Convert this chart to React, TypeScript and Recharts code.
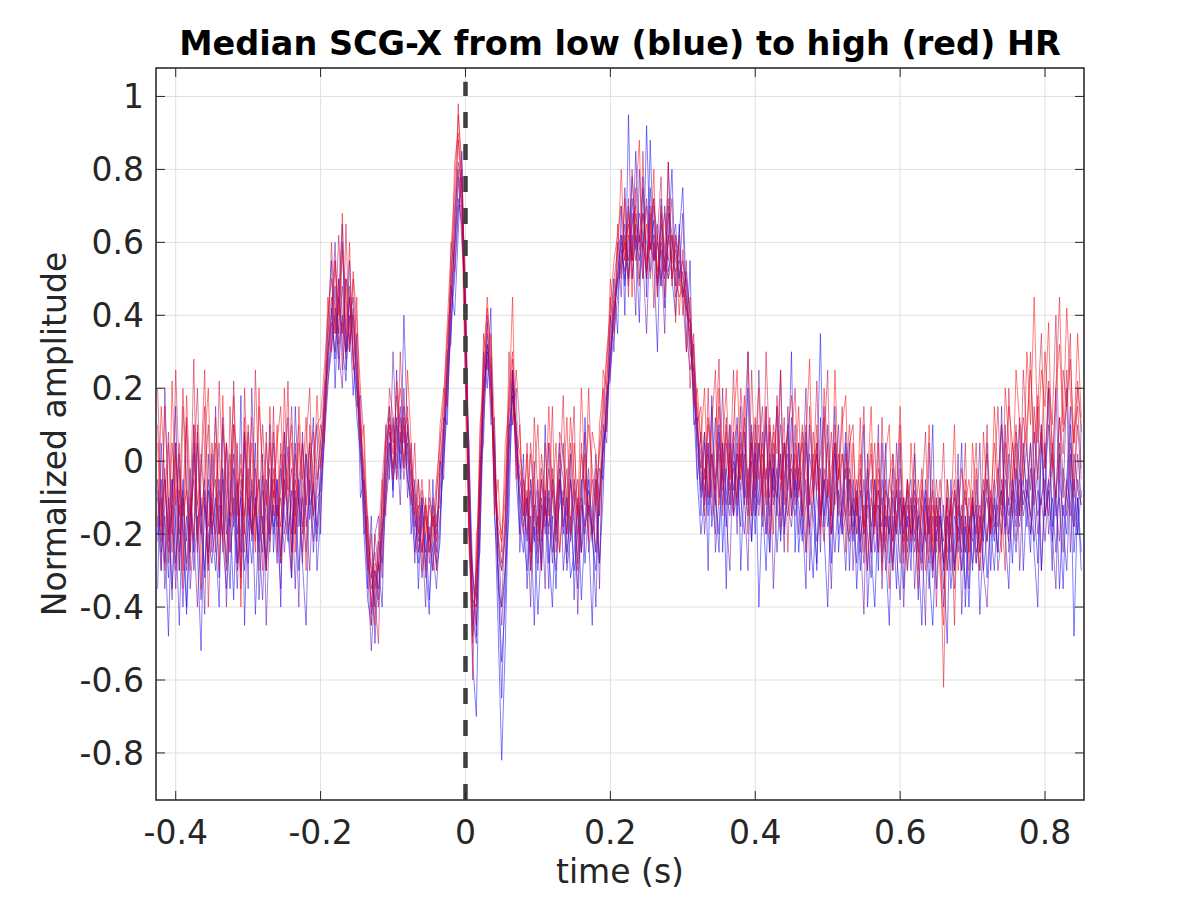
import {
  LineChart,
  Line,
  XAxis,
  YAxis,
  CartesianGrid,
  ReferenceLine,
  ReferenceArea,
} from "recharts";

// sample times: regular grid starting at TIME_START
const TIME_START = -0.425;
const TIME_STEP = 0.005;

const X_TICKS = [-0.4, -0.2, 0, 0.2, 0.4, 0.6, 0.8];
const Y_TICKS = [-0.8, -0.6, -0.4, -0.2, 0, 0.2, 0.4, 0.6, 0.8, 1];

// median SCG-X per HR bin, low HR (blue) -> high HR (red)
const hrBin1 = [
  -.2, -.05, -.28, -.1, -.35, -.15, .02, -.22, -.4, -.12, -.25, .05, -.18, -.3, -.08, -.2,
  -.1, -.32, -.02, -.2, -.14, -.38, -.06, -.25, .08, -.16, -.28, -.1, -.22, -.04, -.3, -.12,
  -.18, -.05, -.26, -.12, .04, -.2, -.08, -.3, -.1, .02, -.16, -.06, -.2, -.02, .14, .3,
  .42, .28, .5, .32, .22, .45, .3, .12, .02, -.2, -.38, -.45, -.3, -.35, -.2, -.1,
  .05, -.08, .12, -.02, .08, -.05, -.12, -.25, -.15, -.32, -.2, -.38, -.22, -.28, -.15, 0,
  .15, .38, .5, .68, .78, .3, -.2, -.55, -.7, -.15, .18, .32, .22, -.1, -.45, -.82,
  -.5, -.05, .18, .1, -.18, -.25, -.1, -.3, -.18, -.42, -.22, -.08, -.28, -.15, -.35, -.05,
  -.2, -.1, -.32, -.25, -.12, -.38, -.18, -.05, -.22, -.3, -.1, .05, .1, .28, .42, .5,
  .62, .48, .7, .55, .85, .6, .5, .92, .58, .66, .45, .72, .52, .6, .8, .48,
  .62, .75, .42, .38, .15, -.05, -.2, -.1, .05, -.18, -.08, .1, -.25, -.02, -.12, .08,
  -.15, .02, -.1, .3, -.05, -.2, .05, -.12, -.3, 0, -.08, .15, -.22, -.05, .1, -.15,
  -.02, -.25, -.1, .08, -.18, -.32, -.05, .35, -.15, -.08, -.28, .02, -.12, -.2, .05, -.1,
  -.22, -.08, -.3, -.15, -.02, -.25, -.4, -.12, -.18, .05, -.28, -.15, -.35, -.1, -.2, -.05,
  -.25, -.12, -.38, -.18, -.08, -.3, -.45, -.2, -.1, -.28, -.15, -.35, -.22, -.05, -.3, -.18,
  -.4, -.12, -.25, -.2, -.08, -.32, -.15, -.22, -.05, .1, -.18, -.1, -.28, -.02, -.15, .05,
  -.12, -.25, .08, -.05, -.3, -.1, .2, -.18, -.08, -.35, -.12, -.2, .02, -.48, -.1, -.25,
];
const hrBin2 = [
  -.35, .05, -.2, -.48, -.1, .15, -.3, -.05, -.42, -.18, .1, -.25, -.52, -.08, -.3, .02,
  -.22, -.4, .12, -.15, -.35, -.02, -.28, .18, -.45, -.1, -.2, .05, -.38, -.15, -.3, .1,
  -.25, -.05, -.4, .08, -.2, -.32, .15, -.1, -.28, -.45, -.05, .12, -.3, -.15, .05, .38,
  .55, .2, .45, .65, .25, .4, .18, .35, -.1, -.05, -.35, -.15, -.5, -.28, -.4, -.02,
  .15, -.1, .25, -.05, .4, .08, -.2, -.05, -.35, -.1, -.28, -.42, -.05, -.3, -.22, .12,
  .1, .48, .4, .62, .85, .2, .05, -.48, -.3, -.25, .3, .2, .42, -.15, -.3, -.65,
  -.3, -.15, .25, -.05, -.2, .02, -.35, -.15, -.45, -.08, -.3, .1, -.25, -.4, -.12, .05,
  -.3, -.18, .02, -.38, -.1, -.25, .12, -.2, -.45, -.05, -.28, -.1, .2, .22, .5, .35,
  .7, .4, .95, .5, .62, .38, .78, .45, .88, .55, .3, .68, .42, .82, .5, .4,
  .65, .45, .3, .55, .1, .12, -.15, .08, -.3, .18, -.1, -.25, .05, -.35, .1, -.15,
  .12, -.3, -.05, .2, -.22, .05, -.4, -.1, .15, -.25, .02, -.15, .25, -.2, -.05, .3,
  -.25, .05, -.15, -.35, .1, -.05, -.3, .12, -.2, -.4, -.08, .15, -.25, -.1, .08, -.3,
  -.05, -.35, -.15, .1, -.4, -.2, -.05, -.3, .05, -.25, -.45, -.1, -.2, .05, -.35, -.15,
  -.3, .02, -.25, -.45, -.1, -.2, .1, -.35, -.15, -.28, -.5, -.05, -.3, -.18, .05, -.4,
  -.15, -.3, -.05, -.42, -.2, .05, -.3, -.1, -.25, .15, -.2, -.35, -.05, -.15, .1, -.3,
  -.1, .05, -.25, -.4, .1, -.15, -.05, -.3, .2, -.12, -.35, -.05, .15, -.25, -.1, -.3,
];
const hrBin3 = [
  -.08, -.25, -.15, -.32, -.05, -.18, -.45, -.1, -.22, -.02, -.3, -.15, -.38, -.12, -.2, -.28,
  -.15, -.05, -.22, -.35, -.12, .02, -.2, -.1, -.3, -.18, -.08, -.42, -.15, -.25, -.05, -.2,
  -.12, -.28, -.02, -.15, -.22, -.08, -.35, -.05, -.18, -.12, .05, -.25, -.1, -.08, .05, .2,
  .35, .48, .25, .4, .3, .55, .28, .2, .08, -.05, -.22, -.3, -.4, -.22, -.28, -.12,
  -.02, .1, -.05, .05, .15, 0, -.08, -.2, -.28, -.12, -.25, -.18, -.3, -.15, -.12, .02,
  .22, .35, .58, .72, .65, .4, -.05, -.42, -.5, -.05, .2, .3, .15, .05, -.3, -.55,
  -.38, .02, .25, .02, -.12, -.2, -.3, -.08, -.22, -.15, -.28, -.1, -.35, -.05, -.18, -.12,
  -.08, -.25, -.15, -.3, -.2, -.05, -.28, -.12, -.18, -.4, -.02, -.05, .18, .25, .35, .45,
  .55, .65, .5, .72, .58, .68, .62, .5, .75, .55, .6, .48, .7, .52, .58, .65,
  .5, .55, .48, .3, .25, .1, -.1, -.02, -.15, .02, -.1, -.2, .05, -.08, -.15, 0,
  -.05, -.18, .08, -.1, -.22, .02, -.12, -.05, .1, -.15, -.02, -.25, -.08, .05, -.12, -.18,
  -.05, -.12, -.22, .05, -.1, -.15, -.28, -.02, -.18, .1, -.12, -.25, -.08, -.15, -.3, -.05,
  -.18, -.1, -.25, -.05, -.2, -.32, -.12, -.08, -.28, -.15, -.2, -.02, -.25, -.38, -.12, -.18,
  -.1, -.22, -.15, -.28, -.05, -.2, -.32, -.15, -.25, -.12, -.3, -.18, -.08, -.25, -.15, -.35,
  -.2, -.1, -.28, -.15, -.22, -.05, -.18, -.3, -.12, -.08, -.2, .02, -.15, -.25, -.1, -.05,
  -.18, -.02, -.12, -.28, .05, -.15, -.08, -.22, -.1, .02, -.18, -.3, -.05, -.12, -.2, -.08,
];
const hrBin4 = [
  -.22, -.1, -.35, -.18, -.05, -.28, -.12, -.4, -.15, -.25, .02, -.2, -.1, -.32, -.05, -.18,
  -.3, -.12, -.2, .05, -.25, -.15, -.35, -.08, -.18, -.28, -.05, -.15, -.22, -.38, -.1, -.02,
  -.2, -.12, -.28, -.05, -.15, -.32, .05, -.18, -.1, -.25, -.05, -.15, -.22, -.1, .08, .22,
  .3, .42, .35, .6, .3, .38, .45, .25, .1, -.15, -.3, -.52, -.35, -.28, -.18, -.05,
  .08, -.05, .02, .15, -.02, .1, -.02, -.15, -.22, -.1, -.3, -.2, -.25, -.35, -.18, .08,
  .25, .45, .6, .75, .8, .42, 0, -.3, -.45, -.2, .1, .3, .28, .02, -.2, -.4,
  -.3, .08, .22, .05, -.05, -.12, -.22, -.05, -.18, -.3, -.1, -.2, -.08, -.25, -.15, -.02,
  -.15, -.28, -.05, -.18, -.35, -.12, -.2, -.08, -.15, -.25, -.1, .02, .15, .3, .38, .52,
  .6, .5, .58, .78, .62, .55, .68, .6, .52, .7, .62, .5, .55, .68, .5, .6,
  .58, .45, .52, .4, .22, .02, -.08, .05, -.12, -.05, .12, -.1, -.02, -.18, .05, -.08,
  .02, -.1, -.2, -.05, .05, -.15, -.08, .08, -.12, -.25, -.02, -.1, .02, -.18, -.08, .12,
  -.1, -.02, -.2, -.12, .02, -.08, -.22, -.15, -.05, -.18, -.1, .05, -.2, -.12, -.02, -.15,
  -.12, -.28, -.08, -.2, -.15, -.05, -.25, -.18, -.1, -.3, -.15, -.22, -.08, -.2, -.12, -.3,
  -.18, -.08, -.25, -.12, -.2, -.35, -.15, -.22, -.1, -.3, -.2, -.12, -.28, -.18, -.25, -.1,
  -.15, -.28, -.18, -.12, -.3, -.2, -.1, -.15, -.25, -.05, -.12, -.2, -.08, -.18, -.02, -.12,
  -.05, -.15, -.22, -.08, -.12, .05, -.2, -.1, -.25, -.05, -.15, -.08, .1, -.18, -.05, -.12,
];
const hrBin5 = [
  -.05, -.3, .2, -.15, -.38, .05, -.25, -.1, .12, -.35, -.2, .08, -.15, -.42, .02, -.25,
  .15, -.2, -.05, -.4, -.12, .1, -.3, -.18, .05, -.35, .2, -.1, -.25, .02, -.45, -.15,
  .05, -.2, -.35, -.02, .12, -.25, -.1, -.4, .08, -.15, -.3, -.05, .1, -.2, .2, .25,
  .4, .6, .3, .2, .5, .45, .28, .15, .18, -.2, -.15, -.42, -.2, -.15, -.32, .1,
  -.05, .3, .05, -.12, .2, -.1, .05, -.28, -.05, -.2, -.4, -.1, -.15, -.25, 0, -.05,
  .3, .32, .68, .8, .6, .45, -.2, -.3, -.48, 0, .05, .4, .1, .12, -.35, -.4,
  -.15, .1, .1, .2, -.25, -.05, -.15, -.4, 0, -.28, -.12, -.35, .05, -.2, -.3, -.08,
  .05, -.3, -.2, -.05, -.42, -.1, .08, -.25, -.15, .02, -.35, .1, .05, .4, .3, .6,
  .45, .75, .5, .62, .4, .8, .55, .35, .65, .72, .48, .58, .35, .7, .62, .45,
  .5, .68, .35, .25, .32, -.05, .08, -.2, -.05, .15, -.25, -.1, .2, -.15, -.3, .05,
  -.2, .15, -.1, -.3, .1, -.15, .25, -.05, -.2, .08, -.35, -.1, .02, -.25, .15, -.1,
  .1, -.2, -.05, .2, -.3, -.12, .05, -.25, .15, -.1, -.35, -.05, .1, -.2, -.15, .05,
  -.3, -.1, -.2, -.42, .02, -.25, -.15, .1, -.35, -.05, -.2, -.3, .05, -.15, -.4, -.1,
  -.05, -.35, -.15, -.2, -.45, .05, -.3, -.1, -.25, -.4, -.05, -.2, -.3, .02, -.42, -.15,
  -.35, -.1, -.2, .05, -.3, -.4, -.15, -.05, -.3, -.2, .1, -.25, -.15, .05, -.3, -.05,
  .05, -.2, -.1, .15, -.3, -.05, .1, -.2, -.35, .05, -.1, .2, -.25, -.05, -.2, .1,
];
const hrBin6 = [
  -.15, -.3, -.05, -.2, -.12, -.35, -.08, -.18, -.28, -.1, -.2, -.4, -.15, -.05, -.25, -.12,
  -.2, -.08, -.15, -.28, -.05, -.18, -.1, -.32, -.15, -.02, -.22, -.12, -.05, -.18, -.28, -.1,
  -.05, -.18, -.1, -.25, -.12, -.02, -.2, -.1, -.28, .02, -.12, -.08, -.18, -.05, .12, .28,
  .38, .3, .45, .35, .5, .32, .4, .22, .05, -.1, -.25, -.35, -.3, -.4, -.2, -.08,
  .02, .12, -.02, .08, -.05, .05, -.05, -.18, -.12, -.25, -.15, -.22, -.12, -.2, -.08, .05,
  .2, .42, .52, .7, .7, .38, -.08, -.38, -.4, -.08, .18, .28, .2, .02, -.28, -.45,
  -.28, .02, .2, .08, -.1, -.15, -.08, -.25, -.12, -.2, -.05, -.18, -.1, -.28, -.12, -.05,
  -.18, -.1, -.22, -.12, -.05, -.25, -.15, -.02, -.2, -.12, -.28, .02, .12, .32, .4, .5,
  .52, .62, .55, .65, .7, .5, .6, .72, .58, .62, .48, .6, .55, .5, .62, .55,
  .52, .48, .4, .38, .18, .08, -.05, -.12, .02, -.08, -.2, .08, -.05, -.12, .02, -.15,
  -.08, .05, -.12, -.02, -.15, .1, -.05, -.18, -.02, -.1, .05, -.12, -.2, -.05, .02, -.1,
  -.15, -.05, -.12, -.25, -.08, .02, -.1, -.18, -.05, -.12, -.2, -.08, .02, -.1, -.15, -.22,
  -.1, -.2, -.15, -.28, -.08, -.18, -.12, -.25, -.05, -.18, -.1, -.28, -.15, -.08, -.22, -.12,
  -.2, -.15, -.1, -.25, -.18, -.12, -.28, -.2, -.15, -.22, -.1, -.3, -.15, -.2, -.12, -.25,
  -.18, -.22, -.12, -.25, -.15, -.1, -.2, -.12, -.18, -.08, -.15, -.22, -.05, -.12, -.18, -.08,
  -.12, -.2, -.05, -.15, -.1, -.22, -.08, -.02, -.15, -.1, -.25, -.05, -.12, -.18, .02, -.1,
];
const hrBin7 = [
  -.1, -.18, -.02, -.25, -.12, .05, -.2, -.08, -.3, -.15, -.05, -.22, .02, -.12, -.28, -.1,
  -.05, -.2, -.12, .05, -.18, -.1, -.28, -.05, -.15, .08, -.2, -.12, -.3, -.08, -.15, -.22,
  -.08, -.15, .02, -.2, -.1, -.25, -.05, -.12, .05, -.18, -.1, -.22, -.05, 0, .1, .25,
  .32, .4, .28, .48, .35, .3, .42, .18, .02, -.12, -.28, -.32, -.25, -.38, -.15, -.02,
  .05, -.02, .1, .02, .12, -.05, -.1, -.15, -.25, -.18, -.12, -.28, -.15, -.22, -.05, .08,
  .25, .45, .6, .78, .7, .32, -.12, -.32, -.38, -.12, .15, .32, .25, -.02, -.22, -.3,
  -.2, .08, .18, 0, -.08, -.18, -.1, -.28, -.15, -.05, -.22, -.12, -.2, -.02, -.15, -.25,
  -.1, -.2, -.05, -.15, -.28, -.1, -.18, -.12, -.22, -.05, -.15, .05, .18, .28, .42, .48,
  .58, .52, .62, .55, .68, .6, .75, .52, .6, .55, .65, .58, .5, .62, .55, .52,
  .55, .5, .45, .32, .2, .05, -.02, -.1, .05, -.15, -.05, .02, -.12, .05, -.08, -.02,
  -.12, .08, -.05, -.15, 0, -.1, .05, -.08, -.2, .02, -.12, -.05, .1, -.08, -.15, -.02,
  -.08, .05, -.15, -.05, -.2, -.1, .02, -.12, -.22, -.05, -.15, .05, -.1, -.18, -.08, -.02,
  -.15, -.05, -.22, -.12, -.3, -.1, -.18, -.05, -.25, -.12, -.2, -.08, -.15, -.28, -.1, -.22,
  -.12, -.25, -.18, -.08, -.22, -.15, -.3, -.12, -.2, -.35, -.15, -.25, -.1, -.2, -.3, -.15,
  -.25, -.12, -.2, -.3, -.15, -.22, -.08, -.18, -.12, -.2, -.05, -.15, -.1, -.22, -.05, -.15,
  -.08, -.15, -.02, -.2, -.1, -.05, -.15, .05, -.12, -.22, -.02, -.1, -.15, .02, -.08, -.12,
];
const hrBin8 = [
  -.05, -.22, -.12, .08, -.18, -.3, -.02, -.15, -.08, -.25, .05, -.12, -.2, -.05, .1, -.18,
  -.12, .05, -.25, -.1, .02, -.15, -.05, -.3, .08, -.12, -.2, -.02, -.15, .1, -.1, -.25,
  -.02, -.15, -.08, .08, -.2, -.12, .02, -.1, -.25, -.05, .05, -.15, -.08, .05, .15, .3,
  .4, .55, .32, .38, .28, .45, .35, .22, .05, -.08, -.25, -.4, -.2, -.3, -.12, .02,
  .1, -.02, .05, .12, 0, .08, -.02, -.12, -.2, -.08, -.15, -.25, -.1, -.18, -.02, .1,
  .28, .5, .65, .82, .75, .38, -.15, -.4, -.35, -.05, .22, .35, .2, -.05, -.2, -.28,
  -.15, .12, .25, .02, -.05, -.1, -.2, -.05, -.15, -.22, -.02, -.12, -.18, -.08, -.2, -.05,
  -.12, -.02, -.2, -.08, -.15, -.25, -.05, -.12, -.2, -.02, -.1, .08, .22, .35, .45, .5,
  .55, .6, .48, .68, .55, .62, .58, .7, .5, .6, .52, .65, .58, .5, .55, .62,
  .48, .52, .42, .35, .25, .08, .02, -.08, .1, -.02, -.12, .05, -.05, .12, -.08, -.15,
  .05, -.08, .02, -.12, .08, -.05, -.15, .02, -.05, .12, -.1, -.02, -.15, .05, -.08, .02,
  -.12, -.02, .05, -.1, -.18, -.05, .02, -.15, -.08, .05, -.2, -.1, -.02, -.15, .02, -.08,
  -.2, -.1, -.02, -.18, -.12, -.25, -.05, -.15, -.22, -.08, -.12, -.3, -.05, -.18, -.1, -.25,
  -.15, -.05, -.22, -.3, -.12, -.2, -.08, -.25, -.15, -.28, -.1, -.2, -.35, -.12, -.18, -.25,
  -.1, -.2, -.28, -.15, -.05, -.22, -.12, -.2, -.08, -.15, -.02, -.12, .05, -.08, -.15, .02,
  -.1, .05, -.12, -.02, .08, -.15, -.05, .02, -.1, .12, -.05, -.15, .05, -.08, .1, -.05,
];
const hrBin9 = [
  .1, -.15, -.05, -.22, .05, -.12, -.3, .15, -.08, -.2, -.02, .2, -.15, -.1, -.28, .05,
  -.08, -.2, .1, -.05, -.15, .22, -.1, -.02, -.25, -.08, .12, -.15, -.05, -.2, .05, -.12,
  .08, -.1, -.18, .02, -.08, .15, -.15, -.05, .05, -.12, -.02, .08, -.05, .05, .2, .35,
  .45, .35, .62, .4, .3, .48, .38, .28, .1, -.05, -.2, -.3, -.45, -.25, -.1, .05,
  .12, .02, .18, .05, .1, .02, -.05, -.1, -.18, -.25, -.12, -.2, -.3, -.08, 0, .12,
  .32, .52, .7, .88, .78, .35, -.18, -.45, -.3, 0, .25, .38, .25, -.08, -.18, -.22,
  -.1, .15, .28, .05, -.02, -.08, -.15, .02, -.12, -.25, -.05, -.15, -.02, -.1, -.22, .02,
  -.05, -.15, .05, -.1, -.2, -.08, .02, -.15, -.05, -.12, .02, .12, .28, .38, .5, .58,
  .62, .55, .72, .5, .65, .58, .6, .52, .68, .55, .62, .48, .6, .72, .5, .58,
  .5, .45, .5, .4, .28, .12, -.02, .08, -.1, .02, -.05, .15, -.08, -.02, .1, -.12,
  .02, -.05, .12, -.1, .05, -.08, .02, .15, -.12, -.02, .08, -.05, -.18, .05, -.02, -.1,
  .02, -.08, -.02, .1, -.12, -.05, .05, -.15, -.02, -.1, .08, -.12, -.05, .02, -.15, -.05,
  -.08, -.15, -.05, -.2, -.1, .02, -.18, -.08, -.15, -.25, -.05, -.12, -.2, -.02, -.15, -.08,
  -.22, -.1, -.15, -.02, -.2, -.28, -.12, -.18, -.05, -.15, -.25, -.12, -.05, -.22, -.15, -.08,
  -.2, -.08, -.15, -.25, -.12, -.05, -.18, -.1, -.02, -.12, .05, -.05, -.15, .08, -.02, .12,
  .02, -.08, .15, -.05, .1, -.02, .2, .05, -.1, .12, .02, .25, -.05, .08, .15, -.02,
];
const hrBin10 = [
  .2, -.1, -.3, .05, -.2, .25, -.05, -.35, .1, -.15, .28, -.25, -.05, .15, -.4, -.1,
  -.25, .22, -.05, -.3, .15, -.15, .05, -.35, .2, -.08, -.2, .25, -.1, -.3, .08, -.2,
  .15, -.25, .05, -.1, .22, -.3, -.05, .1, -.2, .05, .2, -.15, .02, .1, .05, .3,
  .6, .35, .5, .25, .65, .3, .52, .38, .2, .05, -.3, -.2, -.38, -.5, -.05, -.15,
  .2, .12, -.05, .3, .05, .15, -.12, .05, -.25, -.15, -.32, -.05, -.22, -.1, .1, .2,
  .15, .6, .52, .98, .72, .5, -.1, -.6, -.2, -.15, .35, .25, .35, .1, -.25, -.3,
  -.2, .3, .1, .25, .1, -.2, .05, -.25, .12, -.1, -.3, .05, -.15, .15, -.25, -.05,
  .18, -.2, -.05, .15, -.3, .05, -.12, .2, -.1, -.25, .1, .2, .08, .45, .35, .65,
  .5, .72, .45, .8, .6, .48, .85, .5, .7, .42, .62, .78, .45, .6, .72, .38,
  .62, .4, .55, .2, .35, .1, .15, -.15, .2, -.1, .05, .28, -.15, .1, -.05, .25,
  -.1, .2, .05, -.2, .25, -.05, .1, -.15, .3, 0, -.2, .18, -.05, .12, -.25, .05,
  .2, -.1, .08, -.25, .15, -.05, .22, -.15, .05, .25, -.2, .1, -.05, .15, -.25, .05,
  .1, -.2, -.05, .15, -.3, -.1, .05, -.25, .12, -.15, -.35, .02, -.1, .1, -.28, -.05,
  -.2, .05, -.3, -.1, .08, -.25, -.05, -.4, -.15, .05, -.3, -.1, -.45, -.05, -.2, .05,
  -.3, -.1, .05, -.25, -.15, .1, -.2, -.05, .15, -.12, -.3, .2, -.05, .1, -.15, .25,
  .05, .3, -.05, .15, .35, -.02, .22, .1, .4, -.05, .25, .15, .35, -.1, .2, .08,
];
const hrBin11 = [
  .05, -.2, .15, -.1, -.25, .02, -.15, .2, -.05, -.3, .1, -.12, -.02, .25, -.18, -.08,
  .12, -.1, -.22, .05, -.05, .18, -.15, .02, -.2, .1, -.08, -.25, .15, -.02, -.12, .05,
  -.1, .05, .15, -.12, -.02, .1, -.2, .05, -.05, .12, -.1, .02, .1, .12, .25, .4,
  .5, .42, .35, .58, .45, .32, .5, .3, .12, -.02, -.15, -.28, -.35, -.2, -.05, .08,
  .15, .05, .1, .2, .08, .12, 0, -.08, -.15, -.05, -.2, -.12, -.18, -.05, .05, .18,
  .38, .58, .75, .95, .82, .4, -.2, -.5, -.28, .05, .3, .42, .3, -.05, -.15, -.2,
  -.05, .2, .3, .08, .02, -.05, -.12, .05, -.08, -.18, .02, -.1, .05, -.05, -.15, .08,
  .02, -.1, .12, -.05, -.15, .02, -.08, .1, -.02, -.12, .05, .15, .3, .42, .55, .62,
  .7, .58, .65, .55, .75, .6, .68, .55, .62, .72, .5, .6, .68, .55, .62, .5,
  .45, .48, .42, .38, .3, .15, .05, -.05, .12, .02, -.08, .2, -.02, .08, -.12, .05,
  .1, -.02, .18, -.08, .02, .12, -.05, .05, -.1, .1, -.02, .15, -.08, .02, .08, -.15,
  .05, -.05, .1, -.02, -.12, .08, -.08, .02, .12, -.1, -.02, .05, -.15, .02, -.05, .1,
  -.05, -.12, .02, -.18, -.08, .05, -.15, -.02, -.1, -.22, -.05, .02, -.18, -.1, -.25, -.05,
  -.12, -.2, -.05, -.15, -.3, -.1, -.22, -.05, -.18, -.62, -.12, -.2, -.08, -.15, -.02, -.12,
  -.05, -.15, -.02, -.2, -.1, .02, -.12, .05, -.08, .1, -.02, .15, .05, -.05, .12, .02,
  .1, .25, .05, .18, .02, .3, .12, -.02, .2, .45, .08, .15, .28, .05, .22, .1,
];
const hrBin12 = [
  -.18, .15, -.05, -.28, .22, -.12, .05, -.3, .18, -.08, -.22, .1, -.35, .05, .2, -.15,
  .05, -.3, .18, -.12, -.25, .1, .02, -.4, .12, -.15, .05, -.22, .2, -.05, -.3, .15,
  -.15, .1, -.28, .2, -.1, .05, -.25, .15, -.05, -.3, .1, -.08, .18, -.02, .15, .45,
  .3, .55, .4, .68, .35, .6, .25, .45, .05, .1, -.2, -.45, -.28, -.3, -.25, .05,
  .1, -.05, .22, .1, -.02, .25, .05, -.15, -.05, -.3, -.1, -.25, -.15, -.3, .05, .15,
  .35, .45, .82, .9, .65, .2, -.25, -.38, -.4, .1, .2, .45, .28, -.15, -.05, -.25,
  .05, .15, .45, -.05, .1, -.15, .02, -.3, -.05, .1, -.2, -.15, .15, -.1, .05, -.25,
  -.1, .12, -.2, .05, -.15, .2, -.05, -.22, .08, .02, -.15, .25, .2, .5, .4, .55,
  .8, .55, .68, .45, .72, .88, .5, .65, .58, .8, .45, .7, .52, .82, .48, .62,
  .4, .58, .3, .45, .15, .2, .05, .2, -.1, .1, .25, -.12, .05, .2, -.05, .1,
  .25, -.05, .1, .3, -.15, .05, .2, -.1, .15, -.2, .1, .02, .25, -.12, .08, .18,
  -.05, .15, -.15, .05, .28, -.1, .1, -.2, .2, .02, -.15, .25, -.05, .1, .18, -.2,
  .05, -.15, .12, -.25, -.05, .15, -.2, .05, -.3, .02, .1, -.22, -.08, .15, -.15, -.3,
  .05, -.15, -.35, -.05, -.2, .1, -.25, -.1, -.3, -.45, -.05, -.15, .1, -.3, -.2, -.05,
  -.25, .05, -.15, -.3, .08, -.1, -.2, .15, -.05, -.25, .2, .05, -.1, .25, .1, -.05,
  .3, .1, .45, .05, .25, .15, .38, -.02, .2, .32, .1, .42, .18, .05, .35, .12,
];

const SERIES = [
  { key: "hr1", values: hrBin1, color: "#0000ff" },
  { key: "hr2", values: hrBin2, color: "#1700e8" },
  { key: "hr3", values: hrBin3, color: "#2e00d1" },
  { key: "hr4", values: hrBin4, color: "#4600b9" },
  { key: "hr5", values: hrBin5, color: "#5d00a2" },
  { key: "hr6", values: hrBin6, color: "#74008b" },
  { key: "hr7", values: hrBin7, color: "#8b0074" },
  { key: "hr8", values: hrBin8, color: "#a2005d" },
  { key: "hr9", values: hrBin9, color: "#b90046" },
  { key: "hr10", values: hrBin10, color: "#d1002e" },
  { key: "hr11", values: hrBin11, color: "#e80017" },
  { key: "hr12", values: hrBin12, color: "#ff0000" },
];

const data = hrBin1.map((_, i) => {
  const row: Record<string, number> = {
    t: +(TIME_START + i * TIME_STEP).toFixed(3),
  };
  SERIES.forEach((s) => {
    row[s.key] = s.values[i];
  });
  return row;
});

const X_MIN = -0.4272;
const X_MAX = 0.8538;
const Y_MIN = -0.929;
const Y_MAX = 1.078;

// plot box in page pixels
const LEFT = 156;
const TOP = 68;
const RIGHT = 1084;
const BOTTOM = 800;

const FONT = "'DejaVu Sans', sans-serif";
const INK = "#262626";

const fmt = (v: number) => (v === 0 ? "0" : String(v));

function XTick({ x, payload }: any) {
  return (
    <g>
      <line x1={x} y1={BOTTOM} x2={x} y2={BOTTOM - 9} stroke={INK} />
      <line x1={x} y1={TOP} x2={x} y2={TOP + 9} stroke={INK} />
      <text
        x={x}
        y={844}
        textAnchor="middle"
        fontSize={33}
        fontFamily={FONT}
        fill={INK}
      >
        {fmt(payload.value)}
      </text>
    </g>
  );
}

function YTick({ y, payload }: any) {
  return (
    <g>
      <line x1={LEFT} y1={y} x2={LEFT + 9} y2={y} stroke={INK} />
      <line x1={RIGHT} y1={y} x2={RIGHT - 9} y2={y} stroke={INK} />
      <text
        x={144}
        y={y}
        dy="0.36em"
        textAnchor="end"
        fontSize={33}
        fontFamily={FONT}
        fill={INK}
      >
        {fmt(payload.value)}
      </text>
    </g>
  );
}

export default function App() {
  return (
    <div
      style={{
        position: "absolute",
        left: 0,
        top: 0,
        width: 1200,
        height: 900,
        background: "#fff",
      }}
    >
      <LineChart
        width={1200}
        height={900}
        data={data}
        margin={{ top: TOP, right: 1200 - RIGHT, bottom: 0, left: 0 }}
      >
        <CartesianGrid stroke="#dfdfdf" strokeWidth={1} />
        <XAxis
          dataKey="t"
          type="number"
          domain={[X_MIN, X_MAX]}
          ticks={X_TICKS}
          allowDataOverflow
          height={900 - BOTTOM}
          axisLine={false}
          tickLine={false}
          tick={<XTick />}
          interval={0}
        />
        <YAxis
          type="number"
          domain={[Y_MIN, Y_MAX]}
          ticks={Y_TICKS}
          allowDataOverflow
          width={LEFT}
          axisLine={false}
          tickLine={false}
          tick={<YTick />}
          interval={0}
        />
        {SERIES.map((s) => (
          <Line
            key={s.key}
            dataKey={s.key}
            type="linear"
            stroke={s.color}
            strokeOpacity={0.5}
            strokeWidth={1}
            dot={false}
            activeDot={false}
            isAnimationActive={false}
          />
        ))}
        <ReferenceLine
          segment={[
            { x: 0, y: Y_MIN },
            { x: 0, y: 1.04 },
          ]}
          stroke="#404040"
          strokeWidth={4.5}
          strokeDasharray="16 16"
        />
        <ReferenceArea
          x1={X_MIN}
          x2={X_MAX}
          y1={Y_MIN}
          y2={Y_MAX}
          fill="none"
          stroke={INK}
          strokeWidth={1.5}
        />
      </LineChart>
      <svg
        width={1200}
        height={900}
        style={{ position: "absolute", left: 0, top: 0, pointerEvents: "none" }}
      >
        <text
          x={(LEFT + RIGHT) / 2}
          y={55}
          textAnchor="middle"
          fontSize={33.5}
          fontWeight="bold"
          fontFamily={FONT}
          fill="#000"
        >
          Median SCG-X from low (blue) to high (red) HR
        </text>
        <text
          x={(LEFT + RIGHT) / 2}
          y={883}
          textAnchor="middle"
          fontSize={33}
          fontFamily={FONT}
          fill={INK}
        >
          time (s)
        </text>
        <text
          transform="translate(66 434) rotate(-90)"
          textAnchor="middle"
          fontSize={33}
          fontFamily={FONT}
          fill={INK}
        >
          Normalized amplitude
        </text>
      </svg>
    </div>
  );
}
